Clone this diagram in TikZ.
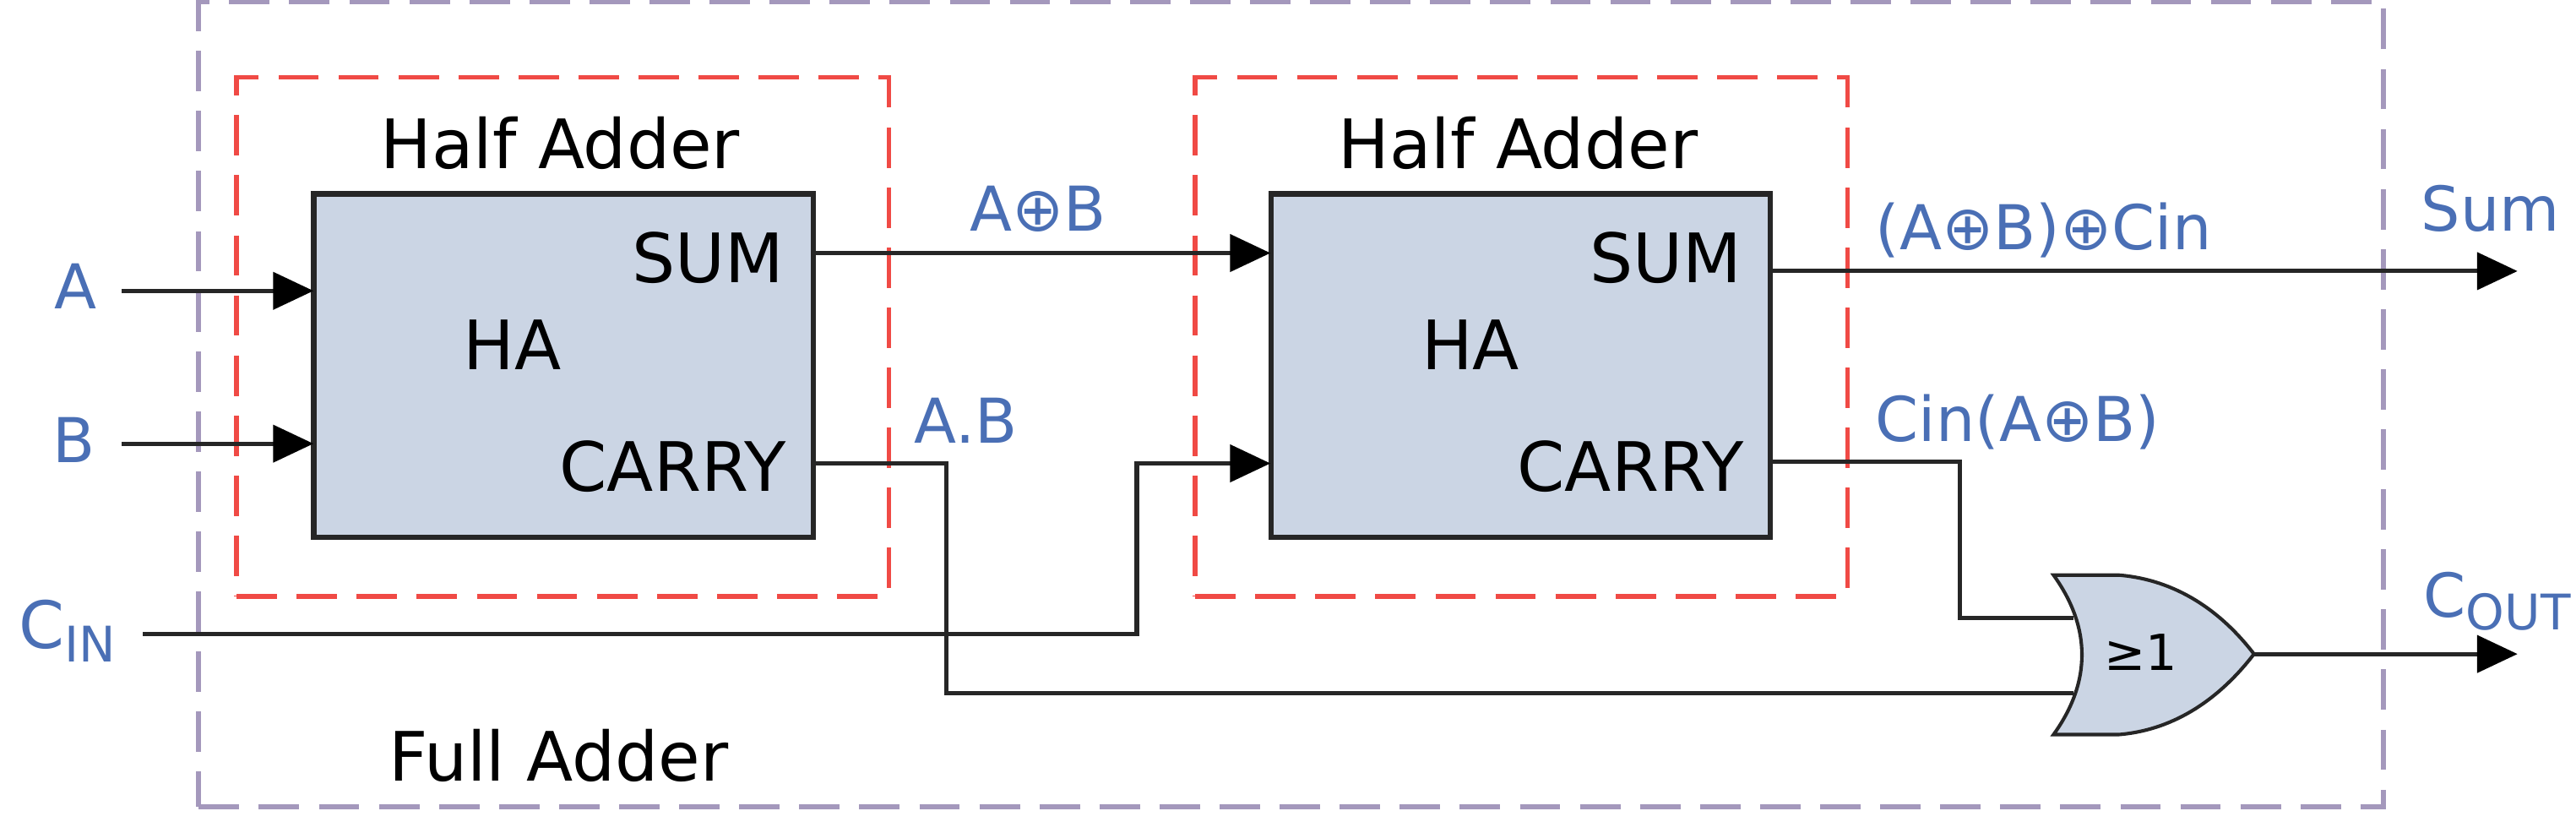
\documentclass[tikz,border=0pt]{standalone}
\usepackage{fontspec}
\setmainfont{DejaVu Sans}
\usetikzlibrary{arrows.meta,positioning}
\definecolor{cblue}{HTML}{4A6FB5}
\definecolor{cfill}{HTML}{CBD5E4}
\definecolor{cred}{HTML}{F04A45}
\definecolor{cpurple}{HTML}{A498BC}
\definecolor{cwire}{HTML}{262626}
\tikzset{
  wire/.style={draw=cwire, line width=0.75pt},
  arrowwire/.style={wire, -{Triangle[length=7pt, width=6.4pt, color=black]}, shorten >=-0.4pt},
  habox/.style={draw=cwire, fill=cfill, line width=0.9pt, minimum width=30.4mm, minimum height=20.9mm, inner sep=0pt},
  hagroup/.style={draw=cred, line width=0.8pt, dash pattern=on 7pt off 3.4pt, minimum width=39.7mm, minimum height=31.6mm, inner sep=0pt},
  fagroup/.style={draw=cpurple, line width=0.9pt, dash pattern=on 7pt off 3.4pt, minimum width=133mm, minimum height=49mm, inner sep=0pt},
  blacktext/.style={font=\fontsize{11.8}{13}\selectfont, text=black, inner sep=0pt},
  bluetext/.style={font=\fontsize{10.7}{12}\selectfont, text=cblue, inner sep=0pt},
}
\newcommand{\lowtext}[1]{\raisebox{-0.38ex}{\fontsize{8.5}{10}\selectfont #1}}

\begin{document}
\begin{tikzpicture}[x=0.1mm, y=-0.1mm]
  \useasboundingbox (0,0) rectangle (1568,500);

  % groups
  \node[fagroup] (fa) at (786,246) {};
  \node[hagroup] (grp1) at (342.5,205) {};
  \node[hagroup] (grp2) at (926,205) {};

  % blocks
  \node[habox] (ha1) at (343,222.5) {};
  \node[habox] (ha2) at (925.5,222.5) {};

  % texts in the blocks
  \node[blacktext] (title1) at (341,87) {Half Adder};
  \node[blacktext] (title2) at (924,87) {Half Adder};
  \node[blacktext] (name1) at (312,210) {HA};
  \node[blacktext] (name2) at (895,210) {HA};
  \node[blacktext, anchor=east] (sum1) at (478,157) {SUM};
  \node[blacktext, anchor=east] (sum2) at (1061,157) {SUM};
  \node[blacktext, anchor=east] (carry1) at (479,284) {CARRY};
  \node[blacktext, anchor=east] (carry2) at (1062,284) {CARRY};
  \node[blacktext] (fulltitle) at (340,460) {Full Adder};

  % inputs, outputs
  \node[bluetext] (a) at (46,174) {A};
  \node[bluetext] (b) at (45,268) {B};
  \node[bluetext, font=\fontsize{11.3}{12}\selectfont] (cin) at (41,384) {C\lowtext{IN}};
  \node[bluetext] (sumout) at (1516,127) {Sum};
  \node[bluetext, font=\fontsize{10.5}{12}\selectfont] (cout) at (1520,366) {C\lowtext{OUT}};

  % signal names
  \node[bluetext] (axb) at (632,127) {A⊕B};
  \node[bluetext] (ab) at (588,256) {A.B};
  \node[bluetext, anchor=west] (axbc) at (1141,140) {(A⊕B)⊕Cin};
  \node[bluetext, anchor=west] (cinab) at (1141,257) {Cin(A⊕B)};

  % free ends
  \coordinate (ina) at (74,177);
  \coordinate (inb) at (74,270);
  \coordinate (incin) at (87,386);
  \coordinate (endsum) at (1531,165);
  \coordinate (endcout) at (1531,398);
  \coordinate (orup) at (1262,376);
  \coordinate (ordown) at (1262,422);
  \coordinate (ortip) at (1372,398);

  % connectors
  \draw[arrowwire] (ina) -- (ina -| ha1.west);
  \draw[arrowwire] (inb) -- (inb -| ha1.west);
  \draw[arrowwire] (ha1.east |- 0,154) -- (ha2.west |- 0,154);
  \draw[arrowwire] (incin) -| (692,282) -- (ha2.west |- 0,282);
  \draw[wire] (ha1.east |- 0,282) -| (576,422) -- (ordown);
  \draw[wire] (ha2.east |- 0,281) -| (1193,376) -- (orup);
  \draw[arrowwire] (ha2.east |- endsum) -- (endsum);
  \draw[arrowwire] (ortip) -- (endcout);

  % or gate
  \draw[draw=cwire, fill=cfill, line width=0.6pt] (1250,350) -- (1290,350)
    .. controls (1325,353) and (1352,372) .. (ortip)
    .. controls (1352,424) and (1325,444) .. (1290,447) -- (1250,447)
    .. controls (1273,415) and (1273,382) .. (1250,350) -- cycle;
  \node[blacktext, font=\fontsize{8.6}{10}\selectfont] (orname) at (1303,397) {≥1};
\end{tikzpicture}
\end{document}
